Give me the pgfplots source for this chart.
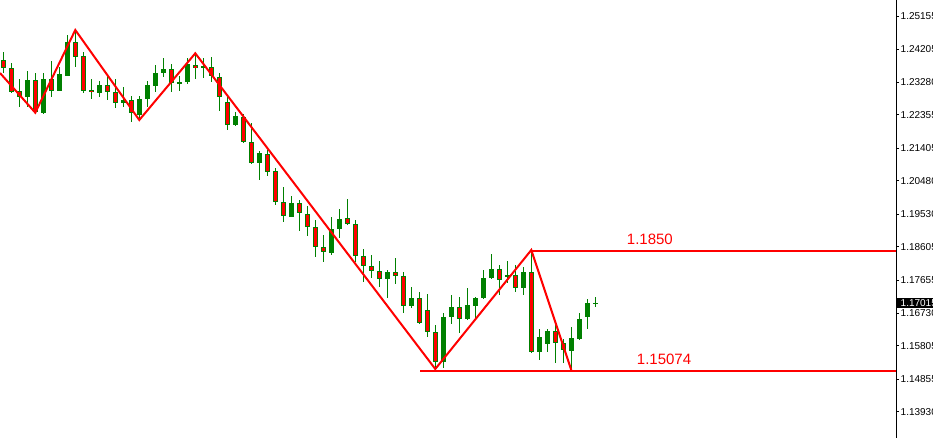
\documentclass[border=0pt]{standalone}
\usepackage{fontspec}
\setmainfont{Liberation Sans}
\usepackage{pgfplots}
\usepackage{pgfplotstable}
\pgfplotsset{compat=1.18}
\definecolor{mtgreen}{RGB}{0,128,0}
\definecolor{mtred}{RGB}{255,0,0}

% bullish candles: index, open, high, low, close
\pgfplotstableread{
i o h l c
3 1.22866 1.23595 1.22565 1.23340
5 1.22412 1.23530 1.22375 1.23359
7 1.23036 1.23717 1.23028 1.23510
8 1.23462 1.24616 1.23453 1.24418
12 1.22979 1.23311 1.22866 1.23198
15 1.22679 1.23150 1.22565 1.22772
17 1.22347 1.22886 1.22205 1.22801
18 1.22801 1.23311 1.22565 1.23198
19 1.23178 1.23765 1.23008 1.23547
20 1.23530 1.23955 1.23433 1.23643
22 1.23246 1.23453 1.23036 1.23283
23 1.23291 1.23955 1.23226 1.23793
25 1.23672 1.23955 1.23388 1.23737
29 1.22055 1.22440 1.22043 1.22318
32 1.20994 1.21325 1.20503 1.21260
36 1.19462 1.20049 1.19445 1.19842
41 1.18440 1.19445 1.18384 1.19104
42 1.19104 1.19672 1.18866 1.19388
48 1.17686 1.17950 1.17147 1.17884
51 1.16928 1.17467 1.16863 1.17147
55 1.15331 1.16721 1.15161 1.16608
56 1.16608 1.17240 1.16409 1.16892
58 1.16551 1.17431 1.16531 1.16948
59 1.16937 1.17192 1.16531 1.17147
60 1.17147 1.17950 1.17127 1.17714
61 1.17714 1.18404 1.17694 1.17970
63 1.17743 1.18205 1.17589 1.17808
65 1.17431 1.18043 1.17240 1.17884
67 1.15632 1.16267 1.15397 1.16041
68 1.15842 1.16267 1.15632 1.16228
71 1.15660 1.16324 1.15113 1.16012
72 1.15992 1.16721 1.15964 1.16551
73 1.16625 1.17119 1.16267 1.17005
74 1.17008 1.17192 1.16909 1.17015
}\bull

% bearish candles
\pgfplotstableread{
i o h l c
0 1.23907 1.24125 1.23530 1.23672
1 1.23672 1.23830 1.22979 1.23008
2 1.23028 1.23368 1.22582 1.22866
4 1.23331 1.23547 1.22412 1.22432
6 1.23359 1.23879 1.22849 1.23036
9 1.24409 1.24758 1.23717 1.24001
10 1.24020 1.24142 1.22979 1.23036
11 1.23056 1.23359 1.22809 1.22991
13 1.23198 1.23453 1.22772 1.22991
14 1.22999 1.23359 1.22537 1.22679
16 1.22772 1.22886 1.22157 1.22395
21 1.23643 1.23793 1.22991 1.23246
24 1.23757 1.24097 1.23359 1.23672
26 1.23700 1.23984 1.23291 1.23453
27 1.23416 1.23530 1.22469 1.22866
28 1.22707 1.22866 1.21921 1.22055
30 1.22299 1.22375 1.21552 1.21572
31 1.21572 1.22111 1.20948 1.20994
33 1.21232 1.21354 1.20625 1.20738
34 1.20758 1.20843 1.19794 1.19870
35 1.19870 1.20296 1.19320 1.19482
37 1.19842 1.19935 1.19065 1.19558
38 1.19530 1.19765 1.18914 1.19178
39 1.19161 1.19368 1.18327 1.18594
40 1.18594 1.18943 1.18185 1.18452
43 1.19416 1.19964 1.19226 1.19246
44 1.19246 1.19368 1.18185 1.18355
45 1.18355 1.18545 1.17618 1.18055
46 1.18055 1.18375 1.17731 1.17921
47 1.17921 1.18205 1.17476 1.17694
49 1.17884 1.18282 1.17544 1.17771
50 1.17771 1.17884 1.16721 1.16928
52 1.17147 1.17317 1.16409 1.16438
53 1.16806 1.17269 1.16041 1.16182
54 1.16182 1.16389 1.15141 1.15348
57 1.16892 1.17175 1.16154 1.16551
62 1.17970 1.18092 1.17240 1.17666
64 1.17808 1.18092 1.17317 1.17431
66 1.17884 1.18517 1.15604 1.15632
69 1.16228 1.16438 1.15303 1.15870
70 1.15870 1.15984 1.15320 1.15680
}\bear

\pgfplotsset{
  wick/.style={draw=none, mark=none, forget plot,
    error bars/.cd, y dir=both, y explicit, error mark=none,
    error bar style={draw=mtgreen, line width=1pt}},
  body/.style 2 args={draw=none, mark=none, forget plot,
    error bars/.cd, y dir=both, y explicit, error mark=none,
    error bar style={draw=#1, line width=#2}},
}

\begin{document}
\begin{tikzpicture}
\begin{axis}[
  scale only axis,
  width=896pt, height=438pt,
  xmin=-0.4125, xmax=111.59,
  ymin=1.13184, ymax=1.25609,
  axis x line=none,
  axis y line*=right,
  axis line style={black, line width=1pt},
  ytick={1.13930,1.14855,1.15805,1.16730,1.17655,1.18605,1.19530,1.20480,1.21405,1.22355,1.23280,1.24205,1.25155},
  yticklabels={1.13930,1.14855,1.15805,1.16730,1.17655,1.18605,1.19530,1.20480,1.21405,1.22355,1.23280,1.24205,1.25155},
  tick align=outside,
  major tick length=3pt,
  tick style={black, line width=0.8pt},
  yticklabel style={font=\fontsize{10}{11}\selectfont, anchor=west, inner sep=0pt, xshift=1.5pt},
]

% wicks
\addplot[wick] table[x=i, y expr={(\thisrow{h}+\thisrow{l})/2}, y error expr={(\thisrow{h}-\thisrow{l})/2}] {\bull};
\addplot[wick] table[x=i, y expr={(\thisrow{h}+\thisrow{l})/2}, y error expr={(\thisrow{h}-\thisrow{l})/2}] {\bear};

% bodies
\addplot[body={mtgreen}{5pt}] table[x=i, y expr={(\thisrow{o}+\thisrow{c})/2}, y error expr={max(abs(\thisrow{o}-\thisrow{c})/2,0.00015)}] {\bull};
\addplot[body={mtgreen}{5pt}] table[x=i, y expr={(\thisrow{o}+\thisrow{c})/2}, y error expr={max(abs(\thisrow{o}-\thisrow{c})/2,0.00015)}] {\bear};
\addplot[body={mtred}{3pt}] table[x=i, y expr={(\thisrow{o}+\thisrow{c})/2}, y error expr={max(abs(\thisrow{o}-\thisrow{c})/2-0.00028,0)}] {\bear};

% zigzag
\addplot[mtred, line width=2pt, forget plot] coordinates {
  (-0.41,1.23538) (4,1.22412) (9,1.24758) (17,1.22205) (24,1.24097)
  (54,1.15141) (66,1.18517) (71,1.15113)
};
% levels
\addplot[mtred, line width=2pt, forget plot] coordinates {(66,1.1850) (111.59,1.1850)};
\addplot[mtred, line width=2pt, forget plot] coordinates {(52.1,1.15074) (111.59,1.15074)};

\node[mtred, anchor=base west, inner sep=0pt, font=\fontsize{15}{15}\selectfont] at (axis cs:77.93,1.18687) {1.1850};
\node[mtred, anchor=base west, inner sep=0pt, font=\fontsize{15}{15}\selectfont] at (axis cs:79.18,1.15283) {1.15074};

\coordinate (cur) at (axis cs:111.59,1.17000);
\end{axis}
\node[fill=black, text=white, anchor=west, inner xsep=4pt, inner ysep=0pt,
  minimum height=10pt, font=\fontsize{10}{11}\selectfont] at ([xshift=0.5pt]cur) {1.17015};
\pgfresetboundingbox
\useasboundingbox (0,0) rectangle (933pt,438pt);
\end{tikzpicture}
\end{document}
